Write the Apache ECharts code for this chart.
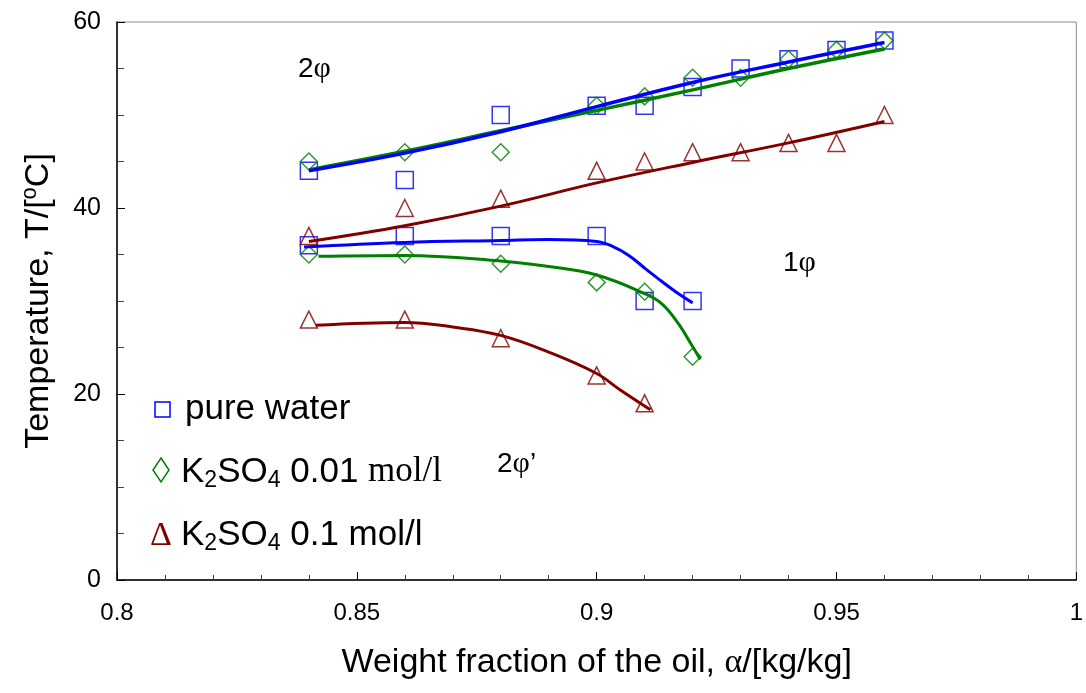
<!DOCTYPE html>
<html>
<head>
<meta charset="utf-8">
<script src="https://cdn.jsdelivr.net/npm/echarts@6/dist/echarts.min.js"></script>
<style>
  html, body { margin: 0; padding: 0; background: #fff; }
  #chart { width: 1086px; height: 693px; }
</style>
</head>
<body>
<div id="chart"></div>
<script>
// measured points [alpha, T]
const waterUpper = [[0.84, 44], [0.86, 43], [0.88, 50], [0.90, 51], [0.91, 51], [0.92, 53], [0.93, 55], [0.94, 56], [0.95, 57], [0.96, 58]]
const waterLower = [[0.84, 36], [0.86, 37], [0.88, 37], [0.90, 37], [0.91, 30], [0.92, 30]]
const k001Upper = [[0.84, 45], [0.86, 46], [0.88, 46], [0.90, 51], [0.91, 52], [0.92, 54], [0.93, 54], [0.94, 56], [0.95, 57], [0.96, 58]]
const k001Lower = [[0.84, 35], [0.86, 35], [0.88, 34], [0.90, 32], [0.91, 31], [0.92, 24]]
const k01Upper = [[0.84, 37], [0.86, 40], [0.88, 41], [0.90, 44], [0.91, 45], [0.92, 46], [0.93, 46], [0.94, 47], [0.95, 47], [0.96, 50]]
const k01Lower = [[0.84, 28], [0.86, 28], [0.88, 26], [0.90, 22], [0.91, 19]]

// fitted curves
const waterUpperFit = [[0.84, 44], [0.86, 45.9], [0.88, 48.2], [0.90, 50.9], [0.92, 53.5], [0.94, 55.7], [0.96, 57.8]]
const waterLowerFit = [[0.839, 35.8], [0.86, 36.3], [0.88, 36.5], [0.89, 36.6], [0.90, 36.4], [0.9032, 35.9], [0.9067, 34.9], [0.9101, 33.5], [0.9136, 32.1], [0.917, 30.8], [0.92, 29.8]]
const k001UpperFit = [[0.84, 44.1], [0.86, 46.1], [0.88, 48.3], [0.90, 50.5], [0.92, 52.7], [0.94, 55], [0.96, 57.1]]
const k001LowerFit = [[0.842, 34.8], [0.86, 34.9], [0.88, 34.3], [0.89, 33.7], [0.90, 32.8], [0.91, 30.8], [0.9136, 29.7], [0.917, 27.6], [0.92, 25.1], [0.9216, 23.7]]
const k01UpperFit = [[0.84, 36.4], [0.86, 38.1], [0.88, 40.2], [0.90, 42.7], [0.92, 44.9], [0.94, 47.0], [0.96, 49.3]]
const k01LowerFit = [[0.8415, 27.4], [0.86, 27.7], [0.87, 27.2], [0.88, 26.3], [0.89, 24.5], [0.90, 22.2], [0.905, 20.4], [0.9112, 18.3]]

const xTicks = [0.8, 0.85, 0.9, 0.95, 1]
const yTicks = [0, 20, 40, 60]

const BLUE = '#0000ff'
const GREEN = '#008000'
const RED = '#800000'
const SANS = 'Liberation Sans'
const SERIF = 'Liberation Serif'

const myChart = echarts.init(document.getElementById('chart'))

const dots = (data, symbol, color) => ({
  type: 'scatter',
  data: data,
  symbol: symbol,
  symbolSize: 17,
  itemStyle: {
    color: 'rgba(0,0,0,0)',
    borderColor: color,
    borderWidth: 1.5
  },
  z: 2
})

const fit = (data, color, width) => ({
  type: 'line',
  data: data,
  smooth: 0.4,
  showSymbol: false,
  lineStyle: { color: color, width: width },
  z: 3
})

const subRich = {
  sub: { fontSize: 23, fontFamily: SANS, color: '#000', verticalAlign: 'bottom', lineHeight: 28 },
  serif: { fontSize: 35, fontFamily: SERIF, color: '#000' },
  phi: { fontSize: 30, fontFamily: SERIF, color: '#000' }
}

myChart.setOption({
  animation: false,
  grid: {
    left: 117,
    right: 7,
    top: 22,
    bottom: 113,
    show: true,
    borderColor: '#8c8c8c',
    borderWidth: 1
  },
  xAxis: {
    type: 'value',
    min: xTicks[0],
    max: xTicks[xTicks.length - 1],
    interval: 0.05,
    name: 'Weight fraction of the oil, {a|α}/[kg/kg]',
    nameLocation: 'middle',
    nameGap: 66,
    nameTextStyle: {
      fontSize: 34,
      fontFamily: SANS,
      color: '#000',
      rich: { a: { fontSize: 34, fontFamily: SERIF, color: '#000' } }
    },
    axisLine: { lineStyle: { color: '#000', width: 1.5 } },
    axisTick: { inside: true, length: 8, lineStyle: { color: '#000' } },
    minorTick: { show: true, splitNumber: 5, length: 5, lineStyle: { color: '#444' } },
    axisLabel: {
      fontSize: 24,
      fontFamily: SANS,
      color: '#000',
      margin: 21,
      formatter: v => String(+v.toFixed(2))
    },
    splitLine: { show: false }
  },
  yAxis: {
    type: 'value',
    min: yTicks[0],
    max: yTicks[yTicks.length - 1],
    interval: 20,
    name: 'Temperature, T/[{sup|o}C]',
    nameLocation: 'middle',
    nameGap: 58,
    nameTextStyle: {
      fontSize: 34,
      fontFamily: SANS,
      color: '#000',
      rich: { sup: { fontSize: 22, fontFamily: SANS, color: '#000', verticalAlign: 'top', lineHeight: 40 } }
    },
    axisLine: { lineStyle: { color: '#000', width: 1.5 } },
    axisTick: { inside: true, length: 8, lineStyle: { color: '#000' } },
    minorTick: { show: true, splitNumber: 4, length: 7, lineStyle: { color: '#444' } },
    axisLabel: { fontSize: 25, fontFamily: SANS, color: '#000', margin: 16 },
    splitLine: { show: false }
  },
  series: [
    dots(waterUpper, 'rect', BLUE),
    dots(waterLower, 'rect', BLUE),
    dots(k001Upper, 'diamond', GREEN),
    dots(k001Lower, 'diamond', GREEN),
    dots(k01Upper, 'triangle', RED),
    dots(k01Lower, 'triangle', RED),
    fit(k01UpperFit, RED, 3),
    fit(k01LowerFit, RED, 3),
    fit(k001UpperFit, GREEN, 3.5),
    fit(k001LowerFit, GREEN, 3),
    fit(waterUpperFit, BLUE, 3.5),
    fit(waterLowerFit, BLUE, 3)
  ],
  graphic: [
    // legend
    {
      type: 'rect',
      shape: { x: 155, y: 402, width: 15, height: 15 },
      style: { fill: 'none', stroke: BLUE, lineWidth: 1.5 }
    },
    {
      type: 'polygon',
      shape: { points: [[161, 458], [169, 470], [161, 482], [153, 470]] },
      style: { fill: 'none', stroke: GREEN, lineWidth: 1.5 }
    },
    {
      type: 'text', left: 150, top: 519,
      style: { text: 'Δ', fontSize: 34, fontFamily: SERIF, fill: RED }
    },
    {
      type: 'text', left: 185, top: 392,
      style: { text: 'pure water', fontSize: 35, fontFamily: SANS, fill: '#000' }
    },
    {
      type: 'text', left: 181, top: 452,
      style: {
        text: 'K{sub|2}SO{sub|4} 0.01 {serif|mol/l}',
        fontSize: 35, fontFamily: SANS, fill: '#000', lineHeight: 40, rich: subRich
      }
    },
    {
      type: 'text', left: 181, top: 515,
      style: {
        text: 'K{sub|2}SO{sub|4} 0.1 mol/l',
        fontSize: 35, fontFamily: SANS, fill: '#000', lineHeight: 40, rich: subRich
      }
    },
    // phase regions
    {
      type: 'text', left: 298, top: 54,
      style: { text: '2{phi|φ}', fontSize: 28, fontFamily: SANS, fill: '#000', rich: subRich }
    },
    {
      type: 'text', left: 783, top: 248,
      style: { text: '1{phi|φ}', fontSize: 28, fontFamily: SANS, fill: '#000', rich: subRich }
    },
    {
      type: 'text', left: 497, top: 449,
      style: { text: '2{phi|φ}’', fontSize: 28, fontFamily: SANS, fill: '#000', rich: subRich }
    }
  ]
})
</script>
</body>
</html>
